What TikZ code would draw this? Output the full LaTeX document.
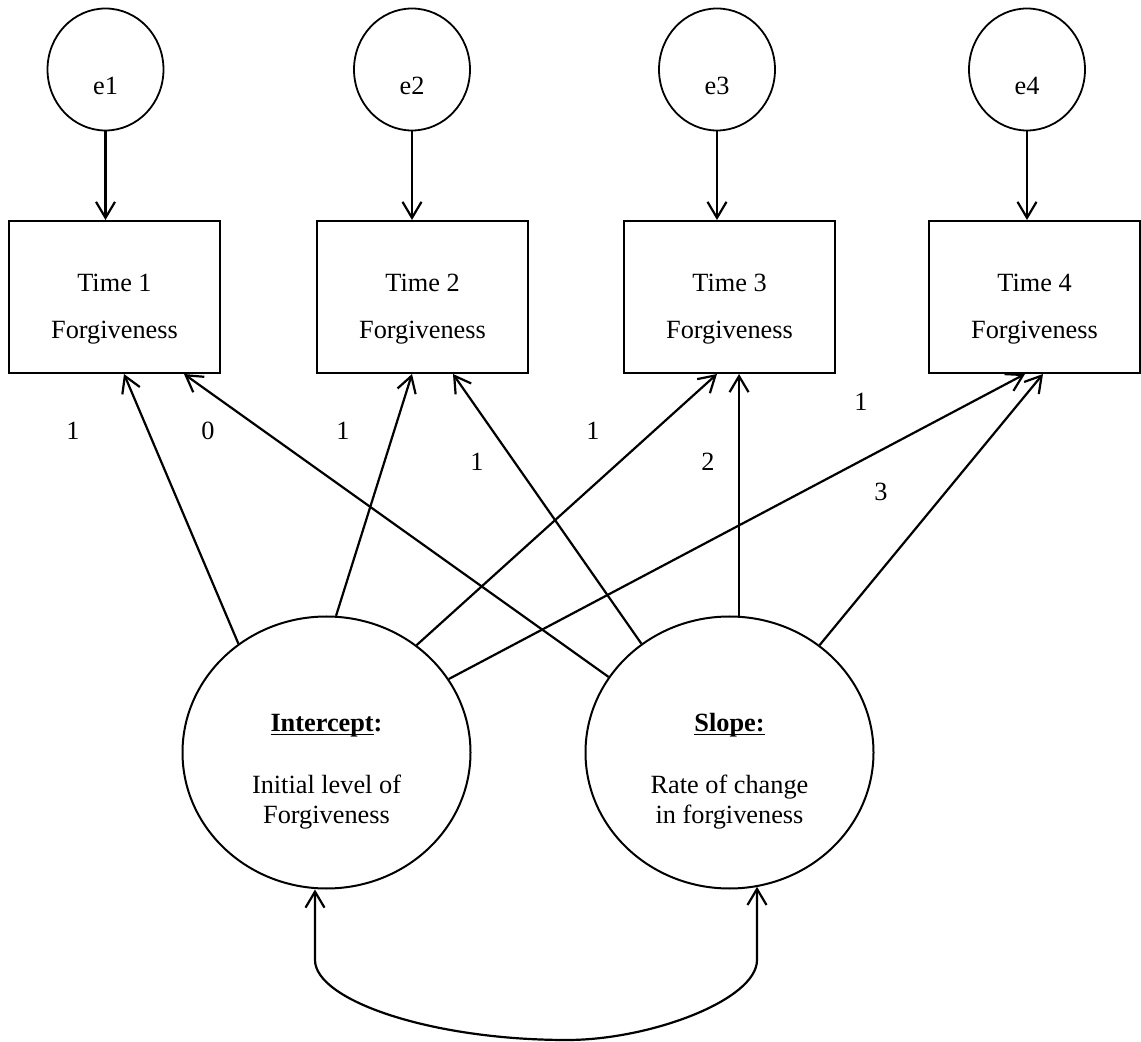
\documentclass[tikz,border=0pt]{standalone}
\usepackage{fontspec}
\setmainfont{Liberation Serif}
\usetikzlibrary{arrows.meta,shapes.geometric}
% underline drawn at a fixed depth, crossing descenders
\newcommand\wordul[1]{\setbox0\hbox{#1}\rlap{\rule[-2pt]{\wd0}{0.9pt}}\box0}

\begin{document}
\begin{tikzpicture}[x=0.5pt,y=-0.5pt,
  >={Straight Barb[length=8pt,width=9.5pt]},
  every node/.style={font=\fontsize{13.15}{15.1}\selectfont},
  errvar/.style={ellipse,draw,line width=0.9pt,minimum width=58pt,minimum height=61pt,inner sep=0pt},
  meas/.style={rectangle,draw,line width=1pt,minimum width=105.5pt,minimum height=76pt,inner sep=0pt},
  latent/.style={ellipse,draw,line width=1pt,minimum width=144pt,minimum height=136pt,inner sep=0pt},
  link/.style={->,line width=1.1pt},
  wt/.style={inner sep=0pt},
  txt/.style={anchor=base,inner sep=0pt}
]
\useasboundingbox (0,0) rectangle (1141,1042);

% error terms
\node[errvar] (e1) at (105.5,69.5) {};
\node[errvar] (e2) at (412,69.5) {};
\node[errvar] (e3) at (717,69.5) {};
\node[errvar] (e4) at (1027,69.5) {};
\foreach \i in {1,...,4}
  \node[txt] (e\i l) at ([yshift=-12.5pt]e\i.center) {e\i};

% observed measures
\node[meas] (t1) at (114.5,297) {};
\node[meas] (t2) at (422.5,297) {};
\node[meas] (t3) at (729.5,297) {};
\node[meas] (t4) at (1034.5,297) {};
\foreach \i in {1,...,4}{
  \node[txt] (t\i a) at ([yshift=2.5pt]t\i.center) {Time \i};
  \node[txt] (t\i b) at ([yshift=-20.75pt]t\i.center) {Forgiveness};
}

% error paths
\foreach \i in {1,...,4}
  \draw[link] (e\i.south) -- (e\i.south |- t\i.north);

% growth factors
\node[latent] (int) at (326.5,752.5) {};
\node[latent] (slp) at (729.5,752.5) {};
\node[txt] (inta) at ([yshift=10.5pt]int.center) {\textbf{\wordul{Intercept}:}};
\node[txt] (intb) at ([yshift=-20.25pt]int.center) {Initial level of};
\node[txt] (intc) at ([yshift=-35.25pt]int.center) {Forgiveness};
\node[txt] (slpa) at ([yshift=10.5pt]slp.center) {\textbf{\wordul{Slope:}}};
\node[txt] (slpb) at ([yshift=-20.25pt]slp.center) {Rate of change};
\node[txt] (slpc) at ([yshift=-35.25pt]slp.center) {in forgiveness};

% intercept loadings
\draw[link] (int.129) -- ([xshift=4.75pt]t1.south);
\draw[link] (int.86)  -- ([xshift=-5.25pt]t2.south);
\draw[link] (int.50.6) -- ([xshift=-6.25pt]t3.south);
\draw[link] (int.31)  -- ([xshift=-4.75pt]t4.south);

% slope loadings
\draw[link] (slp.148.8) -- ([xshift=34.75pt]t1.south);
\draw[link] (slp.129) -- ([xshift=15.25pt]t2.south);
\draw[link] (slp.86)  -- (slp.86 |- t3.south);
\draw[link] (slp.50.5) -- ([xshift=4.25pt]t4.south);

% loading values
\node[wt] (w1) at (73,431) {1};
\node[wt] (w2) at (208,431) {0};
\node[wt] (w3) at (343,431) {1};
\node[wt] (w4) at (477,462) {1};
\node[wt] (w5) at (593,431) {1};
\node[wt] (w6) at (708,462) {2};
\node[wt] (w7) at (861,402) {1};
\node[wt] (w8) at (881,492) {3};

% covariance between intercept and slope
\coordinate (cl) at (315,960);
\coordinate (cb) at (567,1040);
\coordinate (cr) at (757,960);
\draw[<->,line width=1.1pt] (cl |- int.south) -- (cl)
  .. controls (315,1000) and (430,1040) .. (cb)
  .. controls (650,1040) and (757,1000) .. (cr) -- (cr |- slp.282);
\end{tikzpicture}
\end{document}
